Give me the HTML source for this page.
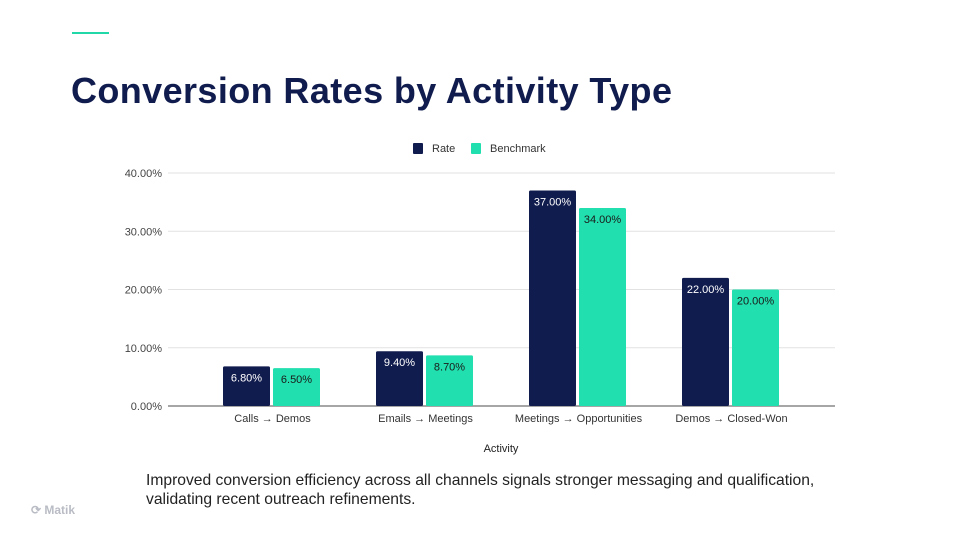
<!DOCTYPE html>
<html><head><meta charset="utf-8"><style>
body{margin:0;width:960px;height:540px;background:#fff;font-family:"Liberation Sans",sans-serif;overflow:hidden;position:relative}
.accent{position:absolute;left:72px;top:32px;width:37px;height:2px;background:#21d9a8}
h1{position:absolute;left:71px;top:70px;margin:0;font-size:36px;font-weight:bold;color:#111c4e;letter-spacing:0.4px}
.cap{position:absolute;left:146px;top:471px;font-size:15.65px;color:#222;line-height:19px}
.logo{position:absolute;left:31px;top:503px;font-size:12px;color:#b9bcc4;font-weight:bold}
svg{position:absolute;left:0;top:0}
</style></head><body>
<div class="accent"></div>
<h1>Conversion Rates by Activity Type</h1>
<svg id="chart" width="960" height="540"></svg>
<div class="cap">Improved conversion efficiency across all channels signals stronger messaging and qualification,<br>validating recent outreach refinements.</div>
<div class="logo">&#x27F3; Matik</div>
<script>
const categories=["Calls → Demos","Emails → Meetings","Meetings → Opportunities","Demos → Closed-Won"];
const rateValues=[6.8,9.4,37,22];
const benchValues=[6.5,8.7,34,20];
const tickValues=[0,10,20,30,40];
const seriesNames=["Rate","Benchmark"];
const NS="http://www.w3.org/2000/svg";
const svg=document.getElementById('chart');
const x0=196,bandW=153,y0=406,yTop=173,yMax=40;
const yS=v=>y0-(v/yMax)*(y0-yTop);
const bandX=i=>x0+i*bandW;
function mk(t,a,txt){const e=document.createElementNS(NS,t);for(const k in a)e.setAttribute(k,a[k]);if(txt!==undefined)e.textContent=txt;svg.appendChild(e);return e;}
tickValues.forEach(v=>{
  const g=mk('line',{x1:168,x2:835,y1:yS(v),y2:yS(v),stroke:v===0?'#888':'#e2e2e2','stroke-width':v===0?1.5:1});
  
  
  const t=mk('text',{x:162,y:yS(v)+4,'text-anchor':'end','font-size':11,fill:'#444'},v.toFixed(2)+'%');
  
  
});
const bw=47,colors=['#111c4e','#21dfae'];
[rateValues,benchValues].forEach((vals,s)=>{
  vals.forEach((v,i)=>{
    const x=bandX(i)+27+s*50;
    const r=mk('rect',{x:x,y:yS(v),width:bw,height:y0-yS(v),fill:colors[s],rx:1.5});
    
    
    const t=mk('text',{x:x+bw/2,y:yS(v)+15,'text-anchor':'middle','font-size':11,fill:s?'#1a1a1a':'#fff'},v.toFixed(2)+'%');
    
    
  });
});
categories.forEach((c,i)=>{
  const t=mk('text',{x:bandX(i)+bandW/2,y:422,'text-anchor':'middle','font-size':11,fill:'#333'},c);
  
  
});
const xt=mk('text',{x:501,y:452,'text-anchor':'middle','font-size':11,fill:'#222'},'Activity');


const lx=[413,471];
seriesNames.forEach((n,s)=>{
  const r=mk('rect',{x:lx[s],y:143,width:10,height:11,fill:colors[s],rx:1});
  
  
  const t=mk('text',{x:lx[s]+19,y:152,'font-size':11,fill:'#333'},n);
  
  
});
</script>
</body></html>
